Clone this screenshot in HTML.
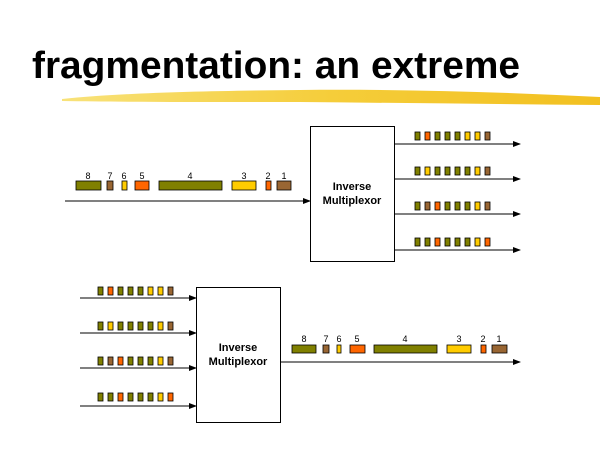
<!DOCTYPE html>
<html><head><meta charset="utf-8"><style>body{margin:0;background:#fff}svg{display:block}</style></head><body>
<svg width="600" height="450" viewBox="0 0 600 450" xmlns="http://www.w3.org/2000/svg" font-family="Liberation Sans, Arial, sans-serif">
<defs>
<linearGradient id="g" x1="0" x2="1" y1="0" y2="0"><stop offset="0" stop-color="#f8e27a"/><stop offset="0.5" stop-color="#f5cd3a"/><stop offset="1" stop-color="#f2c020"/></linearGradient>
<marker id="a" markerWidth="8" markerHeight="6" refX="7" refY="3" orient="auto" markerUnits="userSpaceOnUse"><path d="M0,0 L8,3 L0,6 Z" fill="#000"/></marker>
</defs>
<text x="32" y="78" font-size="38" font-weight="bold" textLength="488" lengthAdjust="spacingAndGlyphs">fragmentation: an extreme</text>
<path d="M62,99 C120,93 200,91 300,90 C400,89 500,92 600,97 L600,105 C500,104 400,103 300,102 C200,102 120,102 62,101 Z" fill="url(#g)"/>
<g stroke="#000" stroke-width="1" fill="none" marker-end="url(#a)">
<line x1="65" y1="201" x2="310" y2="201"/>
<line x1="394" y1="144" x2="520" y2="144"/>
<line x1="394" y1="179" x2="520" y2="179"/>
<line x1="394" y1="214" x2="520" y2="214"/>
<line x1="394" y1="250" x2="520" y2="250"/>
<line x1="80" y1="298" x2="196" y2="298"/>
<line x1="80" y1="333" x2="196" y2="333"/>
<line x1="80" y1="368" x2="196" y2="368"/>
<line x1="80" y1="406" x2="196" y2="406"/>
<line x1="280" y1="362" x2="520" y2="362"/>
</g>
<rect x="310.5" y="126.5" width="84" height="135" fill="#fff" stroke="#000"/>
<rect x="196.5" y="287.5" width="84" height="135" fill="#fff" stroke="#000"/>
<g font-size="11" font-weight="bold" text-anchor="middle">
<text x="352" y="190">Inverse</text><text x="352" y="204">Multiplexor</text>
<text x="238" y="351">Inverse</text><text x="238" y="365">Multiplexor</text>
</g>
<g stroke="#000" stroke-width="0.8">
<rect x="76" y="181" width="25" height="9" fill="#808000"/>
<rect x="107" y="181" width="6" height="9" fill="#996633"/>
<rect x="122" y="181" width="5" height="9" fill="#ffcc00"/>
<rect x="135" y="181" width="14" height="9" fill="#ff6600"/>
<rect x="159" y="181" width="63" height="9" fill="#808000"/>
<rect x="232" y="181" width="24" height="9" fill="#ffcc00"/>
<rect x="266" y="181" width="5" height="9" fill="#ff6600"/>
<rect x="277" y="181" width="14" height="9" fill="#996633"/>
<rect x="292" y="345" width="24" height="8" fill="#808000"/>
<rect x="323" y="345" width="6" height="8" fill="#996633"/>
<rect x="337" y="345" width="4" height="8" fill="#ffcc00"/>
<rect x="350" y="345" width="15" height="8" fill="#ff6600"/>
<rect x="374" y="345" width="63" height="8" fill="#808000"/>
<rect x="447" y="345" width="24" height="8" fill="#ffcc00"/>
<rect x="481" y="345" width="5" height="8" fill="#ff6600"/>
<rect x="492" y="345" width="15" height="8" fill="#996633"/>
</g>
<g font-size="9" text-anchor="middle">
<text x="88" y="179">8</text><text x="110" y="179">7</text><text x="124" y="179">6</text><text x="142" y="179">5</text><text x="190" y="179">4</text><text x="244" y="179">3</text><text x="268" y="179">2</text><text x="284" y="179">1</text>
<text x="304" y="342">8</text><text x="326" y="342">7</text><text x="339" y="342">6</text><text x="357" y="342">5</text><text x="405" y="342">4</text><text x="459" y="342">3</text><text x="483" y="342">2</text><text x="499" y="342">1</text>
</g>
<g stroke="#000" stroke-width="0.8" id="rows">
<!-- top outputs -->
<g transform="translate(415,132)">
<rect x="0" width="5" height="8" fill="#808000"/><rect x="10" width="5" height="8" fill="#ff6600"/><rect x="20" width="5" height="8" fill="#808000"/><rect x="30" width="5" height="8" fill="#808000"/><rect x="40" width="5" height="8" fill="#808000"/><rect x="50" width="5" height="8" fill="#ffcc00"/><rect x="60" width="5" height="8" fill="#ffcc00"/><rect x="70" width="5" height="8" fill="#996633"/>
</g>
<g transform="translate(415,167)">
<rect x="0" width="5" height="8" fill="#808000"/><rect x="10" width="5" height="8" fill="#ffcc00"/><rect x="20" width="5" height="8" fill="#808000"/><rect x="30" width="5" height="8" fill="#808000"/><rect x="40" width="5" height="8" fill="#808000"/><rect x="50" width="5" height="8" fill="#808000"/><rect x="60" width="5" height="8" fill="#ffcc00"/><rect x="70" width="5" height="8" fill="#996633"/>
</g>
<g transform="translate(415,202)">
<rect x="0" width="5" height="8" fill="#808000"/><rect x="10" width="5" height="8" fill="#996633"/><rect x="20" width="5" height="8" fill="#ff6600"/><rect x="30" width="5" height="8" fill="#808000"/><rect x="40" width="5" height="8" fill="#808000"/><rect x="50" width="5" height="8" fill="#808000"/><rect x="60" width="5" height="8" fill="#ffcc00"/><rect x="70" width="5" height="8" fill="#996633"/>
</g>
<g transform="translate(415,238)">
<rect x="0" width="5" height="8" fill="#808000"/><rect x="10" width="5" height="8" fill="#808000"/><rect x="20" width="5" height="8" fill="#ff6600"/><rect x="30" width="5" height="8" fill="#808000"/><rect x="40" width="5" height="8" fill="#808000"/><rect x="50" width="5" height="8" fill="#808000"/><rect x="60" width="5" height="8" fill="#ffcc00"/><rect x="70" width="5" height="8" fill="#ff6600"/>
</g>
<!-- bottom inputs -->
<g transform="translate(98,287)">
<rect x="0" width="5" height="8" fill="#808000"/><rect x="10" width="5" height="8" fill="#ff6600"/><rect x="20" width="5" height="8" fill="#808000"/><rect x="30" width="5" height="8" fill="#808000"/><rect x="40" width="5" height="8" fill="#808000"/><rect x="50" width="5" height="8" fill="#ffcc00"/><rect x="60" width="5" height="8" fill="#ffcc00"/><rect x="70" width="5" height="8" fill="#996633"/>
</g>
<g transform="translate(98,322)">
<rect x="0" width="5" height="8" fill="#808000"/><rect x="10" width="5" height="8" fill="#ffcc00"/><rect x="20" width="5" height="8" fill="#808000"/><rect x="30" width="5" height="8" fill="#808000"/><rect x="40" width="5" height="8" fill="#808000"/><rect x="50" width="5" height="8" fill="#808000"/><rect x="60" width="5" height="8" fill="#ffcc00"/><rect x="70" width="5" height="8" fill="#996633"/>
</g>
<g transform="translate(98,357)">
<rect x="0" width="5" height="8" fill="#808000"/><rect x="10" width="5" height="8" fill="#996633"/><rect x="20" width="5" height="8" fill="#ff6600"/><rect x="30" width="5" height="8" fill="#808000"/><rect x="40" width="5" height="8" fill="#808000"/><rect x="50" width="5" height="8" fill="#808000"/><rect x="60" width="5" height="8" fill="#ffcc00"/><rect x="70" width="5" height="8" fill="#996633"/>
</g>
<g transform="translate(98,393)">
<rect x="0" width="5" height="8" fill="#808000"/><rect x="10" width="5" height="8" fill="#808000"/><rect x="20" width="5" height="8" fill="#ff6600"/><rect x="30" width="5" height="8" fill="#808000"/><rect x="40" width="5" height="8" fill="#808000"/><rect x="50" width="5" height="8" fill="#808000"/><rect x="60" width="5" height="8" fill="#ffcc00"/><rect x="70" width="5" height="8" fill="#ff6600"/>
</g>
</g>
</svg>
</body></html>
